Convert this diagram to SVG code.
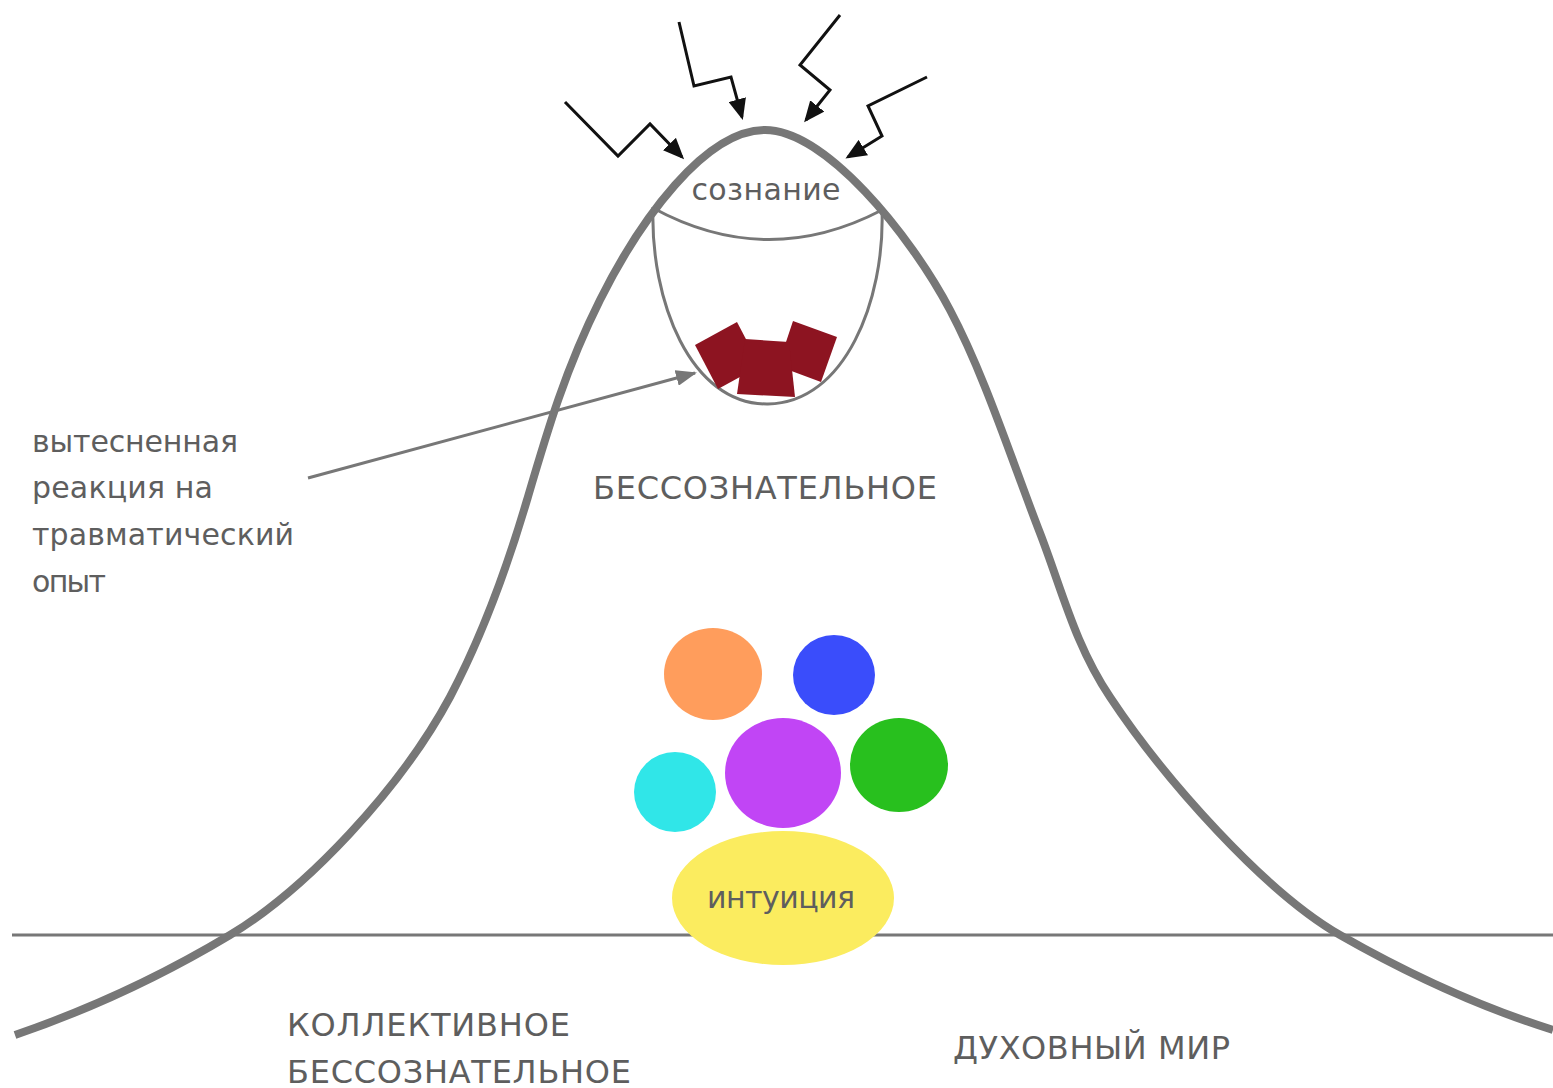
<svg xmlns="http://www.w3.org/2000/svg" width="1553" height="1088" viewBox="0 0 1553 1088">
  <style>
    .lbl { font-family: "DejaVu Sans", "Liberation Sans", sans-serif; fill: #5e5e5e; }
    .low { font-size: 30px; }
    .cap { font-size: 32px; }
    .gray { fill: none; stroke: #777777; stroke-linejoin: round; }
    .bolt { fill: none; stroke: #111111; stroke-width: 3; stroke-linejoin: miter; }
    .sq { fill: #8d1421; }
  </style>
  <defs>
    <marker id="blackHead" markerUnits="userSpaceOnUse" markerWidth="22" markerHeight="18" refX="18" refY="9" orient="auto">
      <path d="M0,0 L21,9 L0,18 z" fill="#111111"/>
    </marker>
    <marker id="grayHead" markerUnits="userSpaceOnUse" markerWidth="22" markerHeight="16" refX="19" refY="8" orient="auto">
      <path d="M0,0 L21,8 L0,16 z" fill="#777777"/>
    </marker>
  </defs>
  <rect width="1553" height="1088" fill="#ffffff"/>

  <g id="baseline">
    <line x1="12" y1="935" x2="1553" y2="935" stroke="#777777" stroke-width="3"/>
  </g>

  <g id="bell-curve">
    <path class="gray" stroke-width="8" d="M15,1035 C85,1011 160,977 230,935 C305,890 400,790 450,697 C480,640 507,568 527,500 C547,432 565,370 600,300 C640,220 705,130 765,130 C825,130 910,234 950,310 C985,376 1012,461 1040,533 C1062,590 1075,645 1110,697 C1165,780 1265,892 1340,935 C1410,975 1483,1008 1553,1030"/>
  </g>

  <g id="consciousness">
    <path class="gray" stroke-width="3" d="M653,208 Q767,270 882,210"/>
    <path class="gray" stroke-width="3" d="M653,207 C650,300 690,405 768,404 C845,403 885,300 882,210"/>
    <text class="lbl low" x="766" y="200" text-anchor="middle" textLength="149" lengthAdjust="spacing">сознание</text>
  </g>

  <g id="repressed">
    <polygon class="sq" points="778,366 793,321 837,337 821,382"/>
    <polygon class="sq" points="695,345 737,322 760,366 718,389"/>
    <polygon class="sq" points="745,339 789,342 795,397 737,394"/>
  </g>

  <g id="unconscious-label">
    <text class="lbl cap" x="593" y="499" textLength="344" lengthAdjust="spacing">БЕССОЗНАТЕЛЬНОЕ</text>
  </g>

  <g id="repressed-label">
    <text class="lbl low" x="32" y="452" textLength="206" lengthAdjust="spacing">вытесненная</text>
    <text class="lbl low" x="32" y="498" textLength="181" lengthAdjust="spacing">реакция на</text>
    <text class="lbl low" x="32" y="545" textLength="262" lengthAdjust="spacing">травматический</text>
    <text class="lbl low" x="32" y="592" textLength="74" lengthAdjust="spacing">опыт</text>
  </g>

  <g id="circles">
    <ellipse cx="713" cy="674" rx="49" ry="46" fill="#ff9d5c"/>
    <ellipse cx="834" cy="675" rx="41" ry="40" fill="#3a4dfb"/>
    <ellipse cx="783" cy="773" rx="58" ry="55" fill="#c145f5"/>
    <ellipse cx="675" cy="792" rx="41" ry="40" fill="#30e6e8"/>
    <ellipse cx="899" cy="765" rx="49" ry="47" fill="#28c01e"/>
  </g>

  <g id="intuition">
    <ellipse cx="783" cy="898" rx="111" ry="67" fill="#fbec5f"/>
    <text class="lbl low" x="781" y="908" text-anchor="middle" textLength="148" lengthAdjust="spacing">интуиция</text>
  </g>

  <g id="collective-label">
    <text class="lbl cap" x="287" y="1036" textLength="283" lengthAdjust="spacing">КОЛЛЕКТИВНОЕ</text>
    <text class="lbl cap" x="287" y="1083" textLength="344" lengthAdjust="spacing">БЕССОЗНАТЕЛЬНОЕ</text>
  </g>

  <g id="spirit-label">
    <text class="lbl cap" x="953" y="1059" textLength="277" lengthAdjust="spacing">ДУХОВНЫЙ МИР</text>
  </g>

  <g id="connectors">
    <polyline class="bolt" points="565,102 618,156 650,124 682,157" marker-end="url(#blackHead)"/>
    <polyline class="bolt" points="679,22 694,86 731,77 742,117" marker-end="url(#blackHead)"/>
    <polyline class="bolt" points="840,15 800,65 830,90 806,120" marker-end="url(#blackHead)"/>
    <polyline class="bolt" points="927,77 868,106 882,136 848,157" marker-end="url(#blackHead)"/>
    <line x1="308" y1="478" x2="695" y2="373" stroke="#777777" stroke-width="3" marker-end="url(#grayHead)"/>
  </g>
</svg>
